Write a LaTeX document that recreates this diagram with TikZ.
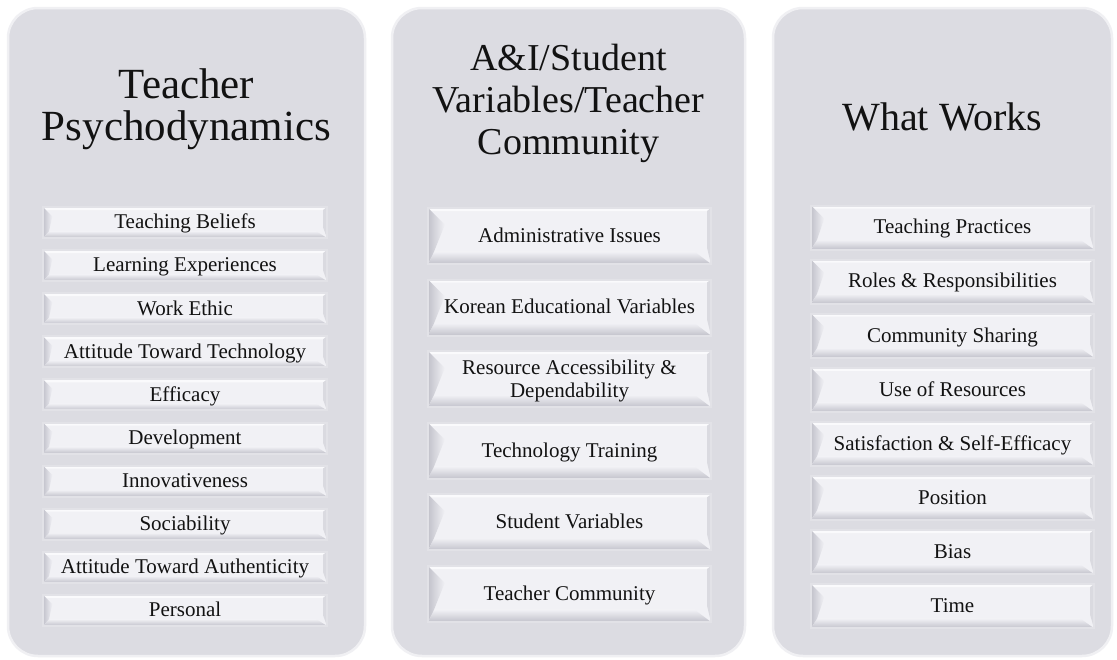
\documentclass[tikz,border=0pt]{standalone}
\usepackage{fontspec}
\setmainfont{Liberation Serif}
\usetikzlibrary{calc}
\definecolor{panelc}{RGB}{220,220,226}
\definecolor{panelrim}{RGB}{240,240,243}
\definecolor{facec}{RGB}{241,241,245}
\definecolor{rimc}{RGB}{226,226,231}
\definecolor{bevdark}{RGB}{194,194,203}
\definecolor{bevmid}{RGB}{218,218,224}
\definecolor{bevlight}{RGB}{250,250,252}
\definecolor{txtc}{RGB}{18,18,18}
\newcommand\istrut{\rule[-5.2pt]{0pt}{23pt}}
\begin{document}
\begin{tikzpicture}[x=1pt,y=-1pt,
  panel/.style={draw=panelrim, line width=2.5pt, fill=panelc, rounded corners=30pt, inner sep=0pt},
  ptitle/.style={align=center, text=txtc, inner sep=0pt},
  itembox/.style={draw=rimc, line width=2pt, fill=facec, inner sep=0pt, text=txtc,
     font=\fontsize{21}{23}\selectfont, align=center,
     path picture={
       \fill[bevlight] let \p1=(path picture bounding box.north west), \p2=(path picture bounding box.south east) in
         (\x1,\y1) -- (\x2,\y1) -- (\x2-3pt,\y1-3pt) -- (\x1+3pt,\y1-3pt) -- cycle;
       \fill[top color=facec, bottom color=bevdark] let \p1=(path picture bounding box.north west), \p2=(path picture bounding box.south east), \n1={0.22*(\y1-\y2)} in
         (\x1,\y2) -- (\x1+6pt,\y2+\n1) -- (\x2-4pt-\n1,\y2+\n1) -- (\x2,\y2) -- cycle;
       \fill[bevmid] let \p1=(path picture bounding box.north west), \p2=(path picture bounding box.south east), \n1={0.22*(\y1-\y2)} in
         (\x2,\y1) -- (\x2-4pt,\y1-3pt) -- (\x2-4pt,\y2+\n1+4pt) -- (\x2,\y2) -- cycle;
       \fill[left color=bevdark, right color=facec] let \p1=(path picture bounding box.north west), \p2=(path picture bounding box.south east), \n1={0.22*(\y1-\y2)}, \n2={0.3*(\y1-\y2)} in
         (\x1,\y1) -- (\x1+\n2,\y1-\n2) -- (\x1+6pt,\y2+\n1) -- (\x1,\y2) -- cycle;
     }},
]
\useasboundingbox (0,0) rectangle (1117,659);
\fill[white] (0,0) rectangle (1117,659);

% panels
\node[panel, minimum width=357pt, minimum height=648pt] (P1) at (186.5,332) {};
\node[panel, minimum width=353pt, minimum height=648pt] (P2) at (568.5,332) {};
\node[panel, minimum width=339pt, minimum height=648pt] (P3) at (942.5,332) {};

% titles
\node[ptitle, font=\fontsize{43}{42}\selectfont] (T1) at (186.5,109) {Teacher\\Psychodynamics};
\node[ptitle, font=\fontsize{38}{42}\selectfont] (T2) at (568.5,103) {A\&I/Student\\Variables/Teacher\\Community};
\node[ptitle, font=\fontsize{40}{42}\selectfont] (T3) at (942.5,117) {What Works};

% column 1
\foreach \t [count=\i from 0] in {Teaching Beliefs, Learning Experiences, Work Ethic, Attitude Toward Technology, Efficacy, Development, Innovativeness, Sociability, Attitude Toward Authenticity, Personal}
  \node[itembox, minimum width=284pt, minimum height=31pt] (a\i) at (185,{222.5+43.1*\i}) {\istrut\t\istrut};

% column 2
\foreach \t [count=\i from 0] in {Administrative Issues, Korean Educational Variables, {Resource Accessibility \&\\ Dependability}, Technology Training, Student Variables, Teacher Community}
  \node[itembox, minimum width=283pt, minimum height=56pt] (b\i) at (569.5,{236+71.6*\i}) {\istrut\t\istrut};

% column 3
\foreach \t [count=\i from 0] in {Teaching Practices, Roles \& Responsibilities, Community Sharing, Use of Resources, Satisfaction \& Self-Efficacy, Position, Bias, Time}
  \node[itembox, minimum width=283pt, minimum height=44pt] (c\i) at (952.5,{227.5+54.1*\i}) {\istrut\t\istrut};
\end{tikzpicture}
\end{document}
